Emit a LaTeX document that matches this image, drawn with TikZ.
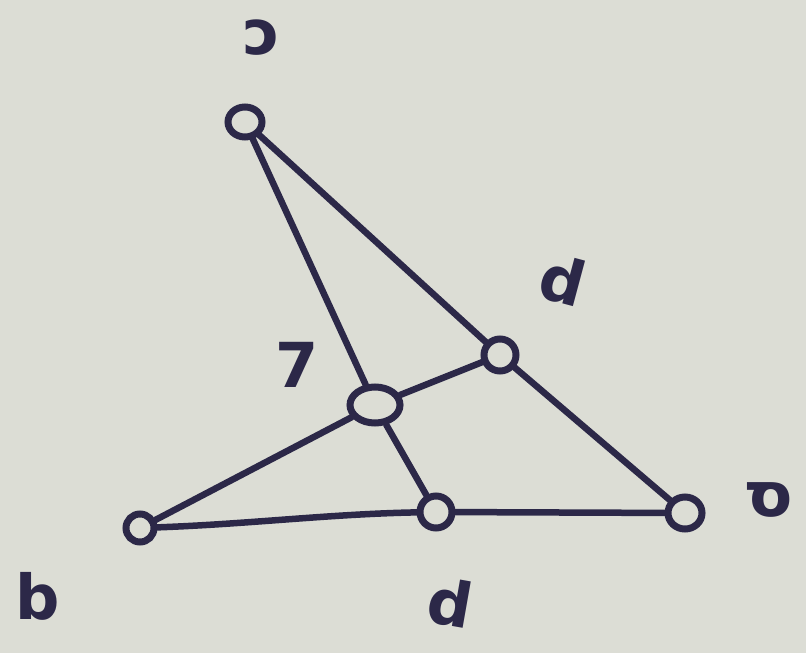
\documentclass[tikz,border=0pt]{standalone}
\usepackage{fontspec}
\setmainfont{DejaVu Sans}
\usetikzlibrary{shapes.geometric}
\definecolor{bgc}{RGB}{220,221,213}
\definecolor{ink}{RGB}{44,40,72}
\begin{document}
\begin{tikzpicture}[x=1pt,y=-1pt,
  pt/.style={draw=ink,line width=7pt,ellipse,inner sep=0pt},
  seg/.style={draw=ink,line width=6.5pt,line cap=round},
  lab/.style={text=ink,font=\fontsize{62}{62}\selectfont\bfseries,inner sep=0pt}]
\fill[bgc] (0,0) rectangle (806,653);
\useasboundingbox (0,0) rectangle (806,653);
\node[pt,minimum width=34pt,minimum height=30pt] (A) at (245,122) {};
\node[pt,minimum width=32pt,minimum height=32pt] (D) at (500,355) {};
\node[pt,minimum width=50pt,minimum height=36pt] (F) at (375,405) {};
\node[pt,minimum width=32pt,minimum height=32pt] (E) at (436,512) {};
\node[pt,minimum width=34pt,minimum height=32pt] (C) at (685,513) {};
\node[pt,minimum width=28pt,minimum height=28pt] (B) at (140,528) {};
\draw[seg] (A) -- (F);
\draw[seg] (F) -- (E);
\draw[seg] (A) -- (D);
\draw[seg] (D) -- (C);
\draw[seg] (B) -- (F);
\draw[seg] (F) -- (D);
\draw[seg] (B) .. controls (250,524) and (330,514) .. (E);
\draw[seg] (E) -- (C);
\node[lab] (lA) at (262,38) {ɔ};
\node[lab,rotate=-15] (lD) at (563,280) {d};
\node[lab] (lF) at (297,365) {7};
\node[lab] (lB) at (38,596) {b};
\node[lab,rotate=-10] (lE) at (450,603) {d};
\node[lab] (lC) at (768,500) {\scalebox{-1}[1]{σ}};
\end{tikzpicture}
\end{document}
